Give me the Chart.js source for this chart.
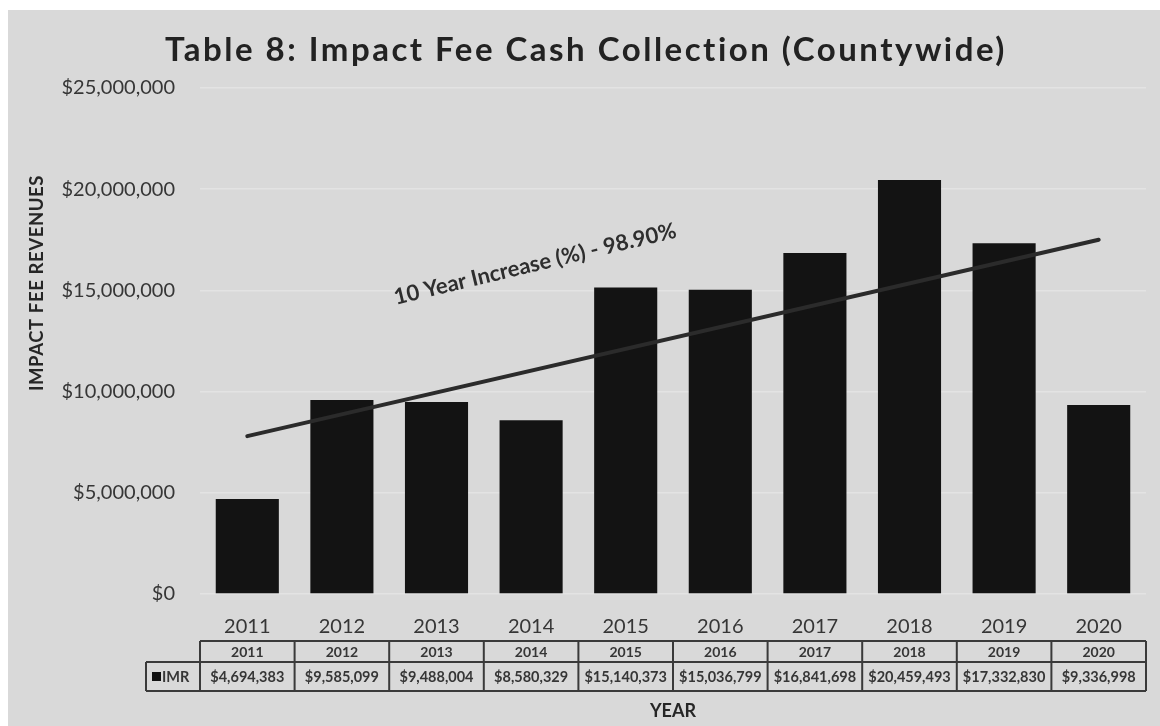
<!doctype html>
<html lang="en">
  <head>
    <meta charset="utf-8">
    <title>Impact Fee Cash Collection</title>
    <style>
      html, body { margin: 0; padding: 0; background: #fff; }
      #wrap { width: 1160px; height: 726px; }
    </style>
  </head>
  <body>
    <div id="wrap"><canvas id="myChart" width="1160" height="726"></canvas></div>

    <script src="https://cdn.jsdelivr.net/npm/chart.js"></script>

    <script>
      const years = ['2011', '2012', '2013', '2014', '2015', '2016', '2017', '2018', '2019', '2020'];
      const imr = [4694383, 9585099, 9488004, 8580329, 15140373, 15036799, 16841698, 20459493, 17332830, 9336998];
      // trend line: only the two ends are plotted, the rest is spanned
      const trend = [7800000, null, null, null, null, null, null, null, null, 17500000];
      const yTicks = [0, 5000000, 10000000, 15000000, 20000000, 25000000];

      const titleText = 'Table 8: Impact Fee Cash Collection (Countywide)';
      const yTitleText = 'IMPACT FEE REVENUES';
      const trendText = '10 Year Increase (%) - 98.90%';
      const textColor = '#363636';
      const fontFamily = 'Lato, "Open Sans", sans-serif';

      function money(v) {
        return '$' + Number(v).toLocaleString('en-US');
      }

      // gray backdrop, titles and the rotated trend caption
      const backdrop = {
        id: 'backdrop',
        beforeDraw(chart) {
          const c = chart.ctx;
          c.save();
          c.fillStyle = '#ffffff';
          c.fillRect(0, 0, chart.width, chart.height);
          c.fillStyle = '#d9d9d9';
          c.fillRect(8, 10, chart.width - 8, chart.height - 10);
          c.restore();
        },
        afterDraw(chart) {
          const c = chart.ctx;
          c.save();
          c.fillStyle = '#222';
          c.font = 'bold 33px ' + fontFamily;
          c.letterSpacing = '2.5px';
          c.textAlign = 'center';
          c.textBaseline = 'middle';
          c.fillText(titleText, 586, 50);
          c.restore();

          // y axis title sits above the middle of the plot
          c.save();
          c.translate(37, 283);
          c.rotate(-Math.PI / 2);
          c.fillStyle = '#262626';
          c.font = 'bold 18.5px ' + fontFamily;
          c.letterSpacing = '0.6px';
          c.textAlign = 'center';
          c.textBaseline = 'middle';
          c.fillText(yTitleText, 0, 0);
          c.restore();

          const x = chart.scales.x, y = chart.scales.y;
          c.save();
          c.translate(x.getPixelForValue(3) + 4, y.getPixelForValue(16300000));
          c.rotate(-13.5 * Math.PI / 180);
          c.fillStyle = '#2e2e2e';
          c.font = 'bold 22px ' + fontFamily;
          c.textAlign = 'center';
          c.textBaseline = 'middle';
          c.fillText(trendText, 0, 0);
          c.restore();
        }
      };

      // data table under the category axis
      const dataTable = {
        id: 'dataTable',
        afterDraw(chart) {
          const c = chart.ctx;
          const x = chart.scales.x;
          const area = chart.chartArea;
          const colW = (area.right - area.left) / years.length;
          const top = 641, mid = 662, bot = 691, legendLeft = 146;

          c.save();
          c.strokeStyle = '#3a3a3a';
          c.lineWidth = 2;
          c.beginPath();
          c.moveTo(area.left, top); c.lineTo(area.right, top);
          c.moveTo(legendLeft, mid); c.lineTo(area.right, mid);
          c.moveTo(legendLeft, bot); c.lineTo(area.right, bot);
          c.moveTo(legendLeft, mid); c.lineTo(legendLeft, bot);
          for (let i = 0; i <= years.length; i++) {
            const px = area.left + i * colW;
            c.moveTo(px, top); c.lineTo(px, bot);
          }
          c.stroke();

          c.fillStyle = textColor;
          c.textAlign = 'center';
          c.textBaseline = 'middle';
          years.forEach((yr, i) => {
            const cx = x.getPixelForValue(i);
            c.font = 'bold 14px ' + fontFamily;
            c.fillText(yr, cx, (top + mid) / 2 + 1);
            c.font = 'bold 14.5px ' + fontFamily;
            c.fillText(money(imr[i]), cx, (mid + bot) / 2 + 1);
          });

          c.fillStyle = '#111';
          c.fillRect(legendLeft + 6, 672, 9, 9);
          c.fillStyle = textColor;
          c.textAlign = 'left';
          c.font = 'bold 14.5px ' + fontFamily;
          c.fillText('IMR', legendLeft + 16, (mid + bot) / 2 + 1);
          c.restore();
        }
      };

      const data = {
        labels: years,
        datasets: [
          {
            type: 'line',
            label: 'Trend',
            data: trend,
            spanGaps: true,
            borderColor: '#2b2b2b',
            borderWidth: 4,
            borderCapStyle: 'round',
            pointRadius: 0,
            order: 0
          },
          {
            type: 'bar',
            label: 'IMR',
            data: imr,
            backgroundColor: '#131313',
            borderWidth: 0,
            categoryPercentage: 1,
            barPercentage: 0.667,
            order: 1
          }
        ]
      };

      const config = {
        data,
        options: {
          responsive: false,
          animation: false,
          layout: {
            padding: { left: 20, right: 14, top: 88, bottom: 0 }
          },
          plugins: {
            legend: { display: false },
            title: { display: false },
            tooltip: { enabled: false }
          },
          scales: {
            x: {
              grid: { display: false },
              border: { display: false },
              ticks: {
                padding: 13,
                color: textColor,
                font: { family: fontFamily, size: 20 }
              },
              title: {
                display: true,
                text: 'YEAR',
                color: '#262626',
                font: { family: fontFamily, size: 18, weight: 'bold' },
                padding: { top: 0, bottom: 4 }
              },
              afterFit(scale) { scale.height = 132; }
            },
            y: {
              min: 0,
              max: 25000000,
              afterBuildTicks(scale) {
                scale.ticks = yTicks.map(v => ({ value: v }));
              },
              grid: { color: '#e3e3e3', lineWidth: 1.5, drawTicks: false },
              border: { display: false },
              ticks: {
                padding: 25,
                color: textColor,
                font: { family: fontFamily, size: 20 },
                callback: v => money(v)
              },
              afterFit(scale) { scale.width = 180; }
            }
          }
        },
        plugins: [backdrop, dataTable]
      };

      const ctx = document.getElementById('myChart');
      const myChart = new Chart(ctx, config);
    </script>
  </body>
</html>
